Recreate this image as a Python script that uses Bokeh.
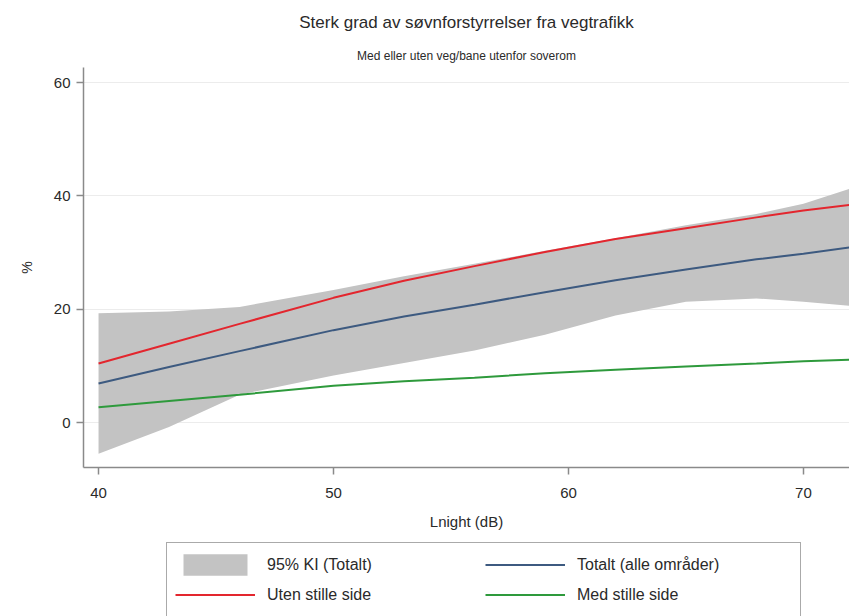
from bokeh.plotting import figure
from bokeh.models import Title, FixedTicker, Legend, Range1d
from bokeh.layouts import column
from bokeh.embed import file_html
from bokeh.resources import INLINE

# ---- data ----
lnight = [40, 43, 46, 50, 53, 56, 59, 62, 65, 68, 70, 72]
uten_stille = [10.4, 13.9, 17.4, 22.0, 25.0, 27.6, 30.1, 32.4, 34.3, 36.2, 37.4, 38.4]
totalt = [6.9, 9.8, 12.6, 16.3, 18.7, 20.8, 23.0, 25.1, 27.0, 28.8, 29.8, 30.9]
med_stille = [2.7, 3.8, 4.9, 6.5, 7.3, 7.9, 8.7, 9.3, 9.9, 10.4, 10.8, 11.1]
ki_upper = [19.3, 19.6, 20.4, 23.4, 25.8, 28.0, 30.3, 32.5, 34.8, 36.8, 38.6, 41.3]
ki_lower = [-5.5, -0.8, 4.9, 8.3, 10.5, 12.7, 15.5, 18.9, 21.3, 21.9, 21.3, 20.6]

x_ticks = [40, 50, 60, 70]
y_ticks = [0, 20, 40, 60]

title_text = "Sterk grad av søvnforstyrrelser fra vegtrafikk"
subtitle_text = "Med eller uten veg/bane utenfor soverom"
x_label = "Lnight (dB)"
y_label = "%"
lbl_ki = "95% KI (Totalt)"
lbl_tot = "Totalt (alle områder)"
lbl_uten = "Uten stille side"
lbl_med = "Med stille side"

FONT = "Liberation Sans"
TXT = "#2a2a2a"
C_BAND = "#c3c3c3"
C_TOT = "#3d5a80"
C_UTEN = "#e3262e"
C_MED = "#2e9a3c"

p = figure(frame_width=766, frame_height=400, output_backend="svg", toolbar_location=None,
           x_range=Range1d(39.36, 71.96), y_range=Range1d(-7.94, 62.65),
           min_border_left=83, min_border_right=0, min_border_top=65,
           min_border_bottom=75)
p.outline_line_color = None
p.background_fill_color = "white"

p.varea(x=lnight, y1=ki_lower, y2=ki_upper, fill_color=C_BAND)
p.line(lnight, totalt, line_color=C_TOT, line_width=2)
p.line(lnight, uten_stille, line_color=C_UTEN, line_width=2)
p.line(lnight, med_stille, line_color=C_MED, line_width=2)

# titles
sub = Title(text=subtitle_text, align="center", text_font=FONT,
            text_font_size="12px", text_font_style="normal", text_color=TXT,
            standoff=10)
main = Title(text=title_text, align="center", text_font=FONT,
             text_font_size="17px", text_font_style="normal", text_color=TXT,
             standoff=20)
p.add_layout(sub, "above")
p.add_layout(main, "above")

# axes
for ax in (p.xaxis[0], p.yaxis[0]):
    ax.axis_line_color = "#8a8a8a"
    ax.axis_line_width = 1.5
    ax.major_tick_line_color = "#8a8a8a"
    ax.major_tick_line_width = 1.5
    ax.major_tick_out = 7
    ax.major_tick_in = 0
    ax.minor_tick_line_color = None
    ax.major_label_text_font = FONT
    ax.major_label_text_font_size = "15px"
    ax.major_label_text_color = TXT
    ax.axis_label_text_font = FONT
    ax.axis_label_text_font_style = "normal"
    ax.axis_label_text_color = TXT

p.xaxis.ticker = FixedTicker(ticks=x_ticks)
p.yaxis.ticker = FixedTicker(ticks=y_ticks)
p.xaxis.axis_label = x_label
p.xaxis.axis_label_text_font_size = "15px"
p.xaxis.major_label_standoff = 13
p.xaxis.axis_label_standoff = 12
p.yaxis.axis_label = y_label
p.yaxis.axis_label_text_font_size = "14px"
p.yaxis.major_label_standoff = 6
p.yaxis.axis_label_standoff = 16
p.yaxis.major_label_orientation = "horizontal"

p.xgrid.grid_line_color = None
p.ygrid.grid_line_color = "#ececec"
p.ygrid.grid_line_width = 1

# ---- legend in its own strip below (its series lie outside this strip's ranges) ----
lg = figure(width=849, height=76, output_backend="svg", toolbar_location=None,
            x_range=Range1d(0, 1), y_range=Range1d(0, 1),
            min_border_left=0, min_border_right=0, min_border_top=0, min_border_bottom=0)
lg.outline_line_color = None
lg.axis.visible = False
lg.grid.visible = False
r_band = lg.varea(x=lnight, y1=ki_lower, y2=ki_upper, fill_color=C_BAND)
r_tot = lg.line(lnight, totalt, line_color=C_TOT, line_width=2)
r_uten = lg.line(lnight, uten_stille, line_color=C_UTEN, line_width=2)
r_med = lg.line(lnight, med_stille, line_color=C_MED, line_width=2)

legend = Legend(items=[(lbl_ki, [r_band]), (lbl_tot, [r_tot]),
                       (lbl_uten, [r_uten]), (lbl_med, [r_med])],
                orientation="horizontal", ncols=2, location=(83, 1),
                border_line_color="#555555", border_line_width=1.5,
                label_text_font=FONT, label_text_font_size="16px",
                label_text_color=TXT, glyph_width=80, glyph_height=27,
                label_height=27, label_width=215, label_standoff=12,
                spacing=3, padding=8, margin=0, background_fill_alpha=1)
lg.add_layout(legend, "center")

layout = column(p, lg, spacing=0)
open("out.html", "w").write(file_html(layout, INLINE))
